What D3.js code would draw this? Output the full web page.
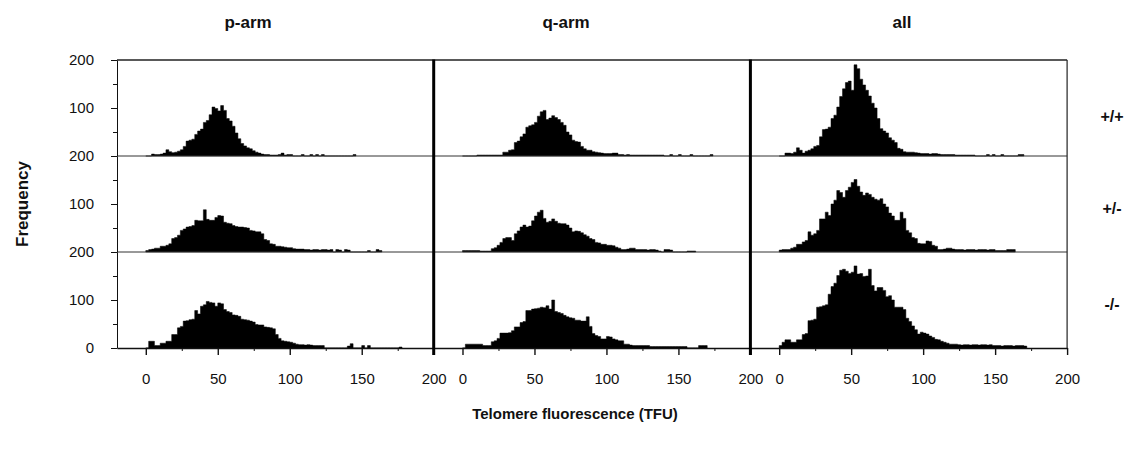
<!DOCTYPE html>
<html>
<head>
<meta charset="utf-8">
<script src="https://cdn.jsdelivr.net/npm/d3@7"></script>
<style>
  body { margin: 0; background: #fff; }
  svg text { font-family: "Liberation Sans", Arial, Helvetica, sans-serif; fill: #111; }
</style>
</head>
<body>
<svg id="chart" width="1134" height="452"></svg>
<script>
// Labels and ticks
const colTitles = ['p-arm', 'q-arm', 'all'];
const rowLabels = ['+/+', '+/-', '-/-'];
const xTicks = [0, 50, 100, 150, 200];
const xMinor = [25, 75, 125, 175];
const yMinor = [50, 150];
const binWidth = 2; // TFU per bar, first bar starts at 0

// Frequencies per bin
const pArmWT = [0,0,4,3,3,4,6,13,9,7, 8,10,13,20,31,33,35,45,52,56,
  70,74,86,102,99,94,105,95,78,73, 62,48,36,26,21,17,15,11,8,6,
  4,3,3,2,2,2,3,6,2,3, 3,0,0,0,3,0,0,3,0,3, 0,3,0,0,0,0,0,0,0,0, 0,0,3];
const qArmWT = [0,0,0,0,0,2,2,2,2,2, 2,2,2,2,8,8,12,13,28,31,
  40,46,60,63,65,70,83,92,95,76, 79,84,80,76,70,64,50,44,33,30,
  29,20,15,12,12,9,8,7,6,5, 5,5,6,6,3,3,2,3,2,2, 2,2,2,2,2,2,2,2,2,2,
  0,0,3,0,0,3,0,0,0,3, 0,0,0,0,0,0,3];
const allWT = [0,0,6,6,5,8,17,12,6,10, 12,15,20,22,40,55,56,60,78,85,
  102,124,140,153,156,137,190,182,160,148, 137,125,110,100,78,57,52,48,38,33,
  28,16,14,9,8,8,8,7,6,5, 5,5,4,5,5,4,3,3,3,3, 3,2,2,2,2,2,2,2,0,0,
  0,0,3,0,3,0,0,3,0,0, 0,0,0,3,3];

const pArmHet = [3,5,6,8,8,12,12,14,17,28, 30,35,45,48,52,53,55,66,65,65,
  88,68,66,66,72,76,75,62,60,59, 55,53,52,52,51,50,45,44,42,42,
  38,26,24,17,16,12,12,11,10,9, 9,7,6,6,6,5,5,4,5,5, 4,5,5,4,5,0,5,4,0,5,
  4,0,0,0,0,0,0,3,0,0, 5,3];
const qArmHet = [3,3,3,3,3,3,2,2,2,2, 7,9,14,20,28,30,30,24,38,44,
  52,56,52,54,65,75,83,87,70,62, 64,69,64,60,59,59,56,50,42,44,
  43,40,36,33,28,26,20,19,16,16, 14,14,13,10,8,5,5,6,8,8, 5,5,5,5,4,5,5,4,2,0,
  5,5,4,0,0,0,0,0,2,2, 2];
const allHet = [4,5,5,5,8,10,16,16,21,24, 42,35,38,45,69,69,83,76,100,108,
  128,124,114,128,135,145,151,137,125,118, 123,120,114,110,108,111,100,94,81,75,
  66,66,83,70,45,40,30,28,18,17, 17,23,22,14,12,5,5,6,8,8, 6,5,5,5,4,5,5,5,4,5,
  5,5,4,5,5,3,3,3,3,5, 5,5];

const pArmKO = [0,14,14,5,5,10,10,14,14,28, 28,42,45,56,57,59,60,78,71,87,
  90,97,95,94,87,94,92,80,76,74, 69,68,66,60,59,58,56,54,49,48,
  48,44,43,42,40,28,20,15,14,13, 12,10,8,7,7,6,7,6,5,5, 5,5,0,0,0,0,0,0,0,0,
  4,9,0,0,0,5,0,5,0,0, 0,0,0,0,0,0,0,0,2];
const qArmKO = [0,8,8,8,8,8,8,5,5,5, 13,15,20,31,31,31,32,36,44,44,
  53,55,78,78,81,82,83,85,84,88, 81,100,76,74,72,68,65,63,62,58,
  58,56,56,65,45,30,26,24,19,19, 24,23,19,17,15,15,8,8,6,5, 5,5,5,5,5,3,3,3,3,3,
  3,3,3,3,3,3,3,3,0,0, 0,0,5,5,5];
const allKO = [5,12,17,17,12,12,17,17,28,30, 57,58,60,85,86,88,90,112,128,135,
  151,162,164,160,155,158,171,154,155,149, 150,164,130,119,126,126,120,107,109,100,
  85,85,85,80,62,55,46,38,29,33, 31,29,25,22,18,17,14,12,10,8, 8,8,7,6,7,7,6,7,7,6,
  7,7,6,7,5,5,5,4,5,5, 5,4,5,5,5,4];

const panelData = [
  [pArmWT, qArmWT, allWT],
  [pArmHet, qArmHet, allHet],
  [pArmKO, qArmKO, allKO],
];

// Draw area values
const plotLeft = 117, plotTop = 60;
const colW = 316.7, rowH = 96;
const plotRight = plotLeft + 3 * colW;
const plotBottom = plotTop + 3 * rowH;

const svg = d3.select('#chart');

const xScales = colTitles.map((t, c) => d3.scaleLinear()
  .domain([-20, 200])
  .range([plotLeft + c * colW, plotLeft + (c + 1) * colW]));
const yScales = rowLabels.map((t, r) => d3.scaleLinear()
  .domain([0, 200])
  .range([plotTop + (r + 1) * rowH, plotTop + r * rowH]));

// Histograms, drawn as one stepped area per panel
panelData.forEach((row, r) => {
  const y = yScales[r];
  row.forEach((counts, c) => {
    const x = xScales[c];
    const pts = counts.map((v, i) => ({ x0: i * binWidth, v: v }));
    pts.push({ x0: counts.length * binWidth, v: 0 });
    svg.append('path')
      .datum(pts)
      .attr('fill', '#000')
      .attr('stroke', '#000')
      .attr('stroke-width', 0.5)
      .attr('d', d3.area()
        .x(d => x(d.x0))
        .y0(y(0))
        .y1(d => y(d.v))
        .curve(d3.curveStepAfter));
  });
});

// Frame: top line, row baselines, right edge
svg.append('line')
  .attr('x1', plotLeft).attr('x2', plotRight)
  .attr('y1', plotTop).attr('y2', plotTop)
  .attr('stroke', '#222').attr('stroke-width', 1.3);
[0, 1].forEach(r => {
  svg.append('line')
    .attr('x1', plotLeft).attr('x2', plotRight)
    .attr('y1', yScales[r](0)).attr('y2', yScales[r](0))
    .attr('stroke', '#333').attr('stroke-width', 1);
});
svg.append('line')
  .attr('x1', plotRight).attr('x2', plotRight)
  .attr('y1', plotTop).attr('y2', plotBottom)
  .attr('stroke', '#222').attr('stroke-width', 1.2);

// Y axes
yScales.forEach((y, r) => {
  const major = r === 2 ? [0, 100, 200] : [100, 200];
  svg.append('g')
    .attr('transform', `translate(${plotLeft},0)`)
    .call(d3.axisLeft(y).tickValues(major).tickSize(6).tickSizeOuter(0).tickPadding(17))
    .call(g => g.selectAll('text').style('font-size', '15px'));
  svg.append('g')
    .attr('transform', `translate(${plotLeft},0)`)
    .call(d3.axisLeft(y).tickValues(yMinor).tickSize(4).tickSizeOuter(0).tickFormat(''))
    .call(g => g.select('.domain').remove());
});

// X axes
xScales.forEach((x, c) => {
  svg.append('g')
    .attr('transform', `translate(0,${plotBottom})`)
    .call(d3.axisBottom(x).tickValues(xTicks).tickSize(7).tickSizeOuter(0).tickPadding(18))
    .call(g => g.select('.domain').attr('stroke-width', 1.6))
    .call(g => g.selectAll('.tick line').attr('stroke-width', 1.4))
    .call(g => g.selectAll('text').style('font-size', '15px'));
  svg.append('g')
    .attr('transform', `translate(0,${plotBottom})`)
    .call(d3.axisBottom(x).tickValues(xMinor).tickSize(3).tickSizeOuter(0).tickFormat(''))
    .call(g => g.select('.domain').remove());
});
svg.selectAll('.tick line, .domain').attr('stroke', '#111');

// Thick column dividers
[1, 2].forEach(c => {
  svg.append('line')
    .attr('x1', plotLeft + c * colW).attr('x2', plotLeft + c * colW)
    .attr('y1', plotTop - 0.5).attr('y2', plotBottom + 7)
    .attr('stroke', '#000').attr('stroke-width', 3);
});

// Column titles
const titleX = [248, 566, 902];
colTitles.forEach((t, c) => {
  svg.append('text')
    .attr('x', titleX[c]).attr('y', 28)
    .attr('text-anchor', 'middle')
    .style('font-size', '17px').style('font-weight', 'bold')
    .text(t);
});

// Row labels
const rowLabelY = [122, 214, 310];
rowLabels.forEach((t, r) => {
  svg.append('text')
    .attr('x', 1112).attr('y', rowLabelY[r])
    .attr('text-anchor', 'middle')
    .style('font-size', '16px').style('font-weight', 'bold')
    .text(t);
});

// Axis titles
svg.append('text')
  .attr('transform', 'translate(28,204) rotate(-90)')
  .attr('text-anchor', 'middle')
  .style('font-size', '17px').style('font-weight', 'bold')
  .text('Frequency');
svg.append('text')
  .attr('x', 575).attr('y', 419)
  .attr('text-anchor', 'middle')
  .style('font-size', '15px').style('font-weight', 'bold')
  .text('Telomere fluorescence (TFU)');
</script>
</body>
</html>
